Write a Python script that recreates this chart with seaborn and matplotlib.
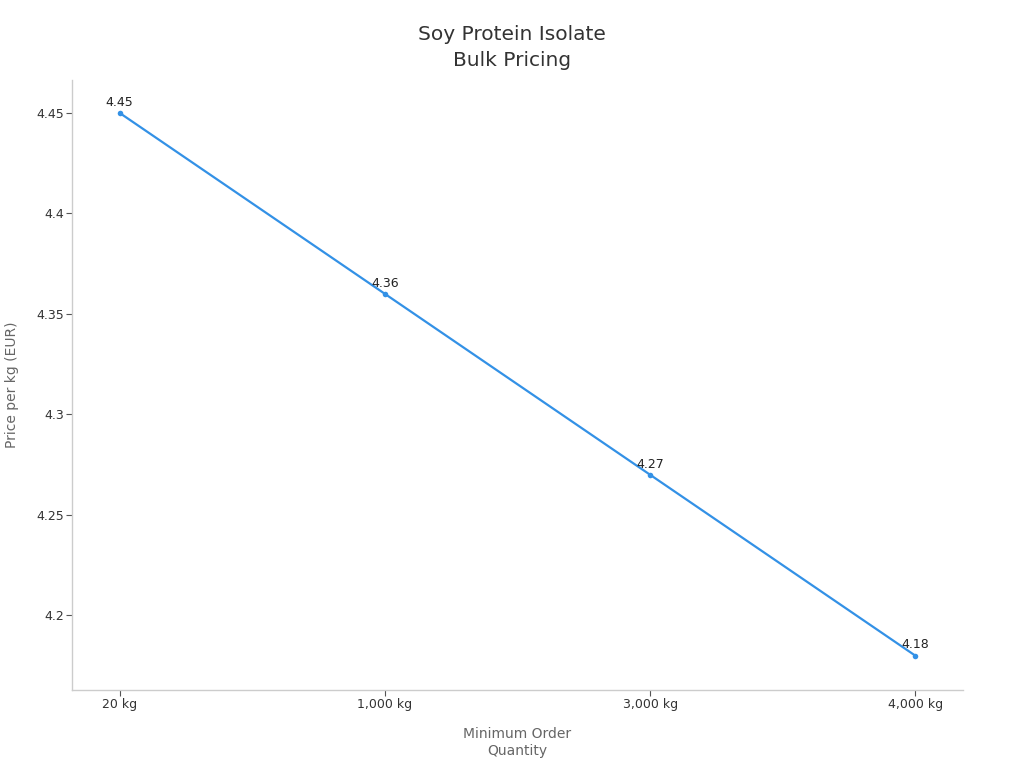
import seaborn as sns
import matplotlib.pyplot as plt
import pandas as pd

# Chart data
quantities = ['20 kg', '1,000 kg', '3,000 kg', '4,000 kg']
prices = [4.45, 4.36, 4.27, 4.18]

df = pd.DataFrame({'qty': quantities, 'price': prices})

sns.set_theme(style="white")
plt.rcParams['font.family'] = ['DejaVu Sans']

fig = plt.figure(figsize=(10.24, 7.68), dpi=100)
ax = fig.add_axes([0.0703, 0.1016, 0.8701, 0.7942])

line_color = '#3391e6'
sns.lineplot(data=df, x='qty', y='price', ax=ax, color=line_color,
             linewidth=1.6, marker='o', markersize=4, markeredgewidth=0, sort=False)

# Value labels above each point
for i, p in enumerate(prices):
    ax.annotate(f'{p:g}', (i, p), xytext=(0, 3), textcoords='offset points',
                ha='center', va='bottom', fontsize=9, color='#222222')

ax.set_xlim(-0.18, 3.18)
ax.set_ylim(4.1629, 4.4664)
ax.set_yticks([4.2, 4.25, 4.3, 4.35, 4.4, 4.45])
ax.set_yticklabels(['4.2', '4.25', '4.3', '4.35', '4.4', '4.45'])

for side in ['top', 'right']:
    ax.spines[side].set_visible(False)
for side in ['left', 'bottom']:
    ax.spines[side].set_color('#cccccc')
    ax.spines[side].set_linewidth(1)

ax.tick_params(axis='both', which='major', length=4, width=0.8, color='#555555',
               labelsize=9, labelcolor='#333333', bottom=True, left=True, pad=2)

ax.set_xlabel('Minimum Order\nQuantity', fontsize=10, color='#666666', labelpad=11,
              linespacing=1.3)
ax.set_ylabel('Price per kg (EUR)', fontsize=10, color='#666666', labelpad=12)

fig.suptitle('Soy Protein Isolate\nBulk Pricing', fontsize=14.5, color='#333333',
             y=0.968, linespacing=1.5)

fig.savefig('out.png', dpi=100)
